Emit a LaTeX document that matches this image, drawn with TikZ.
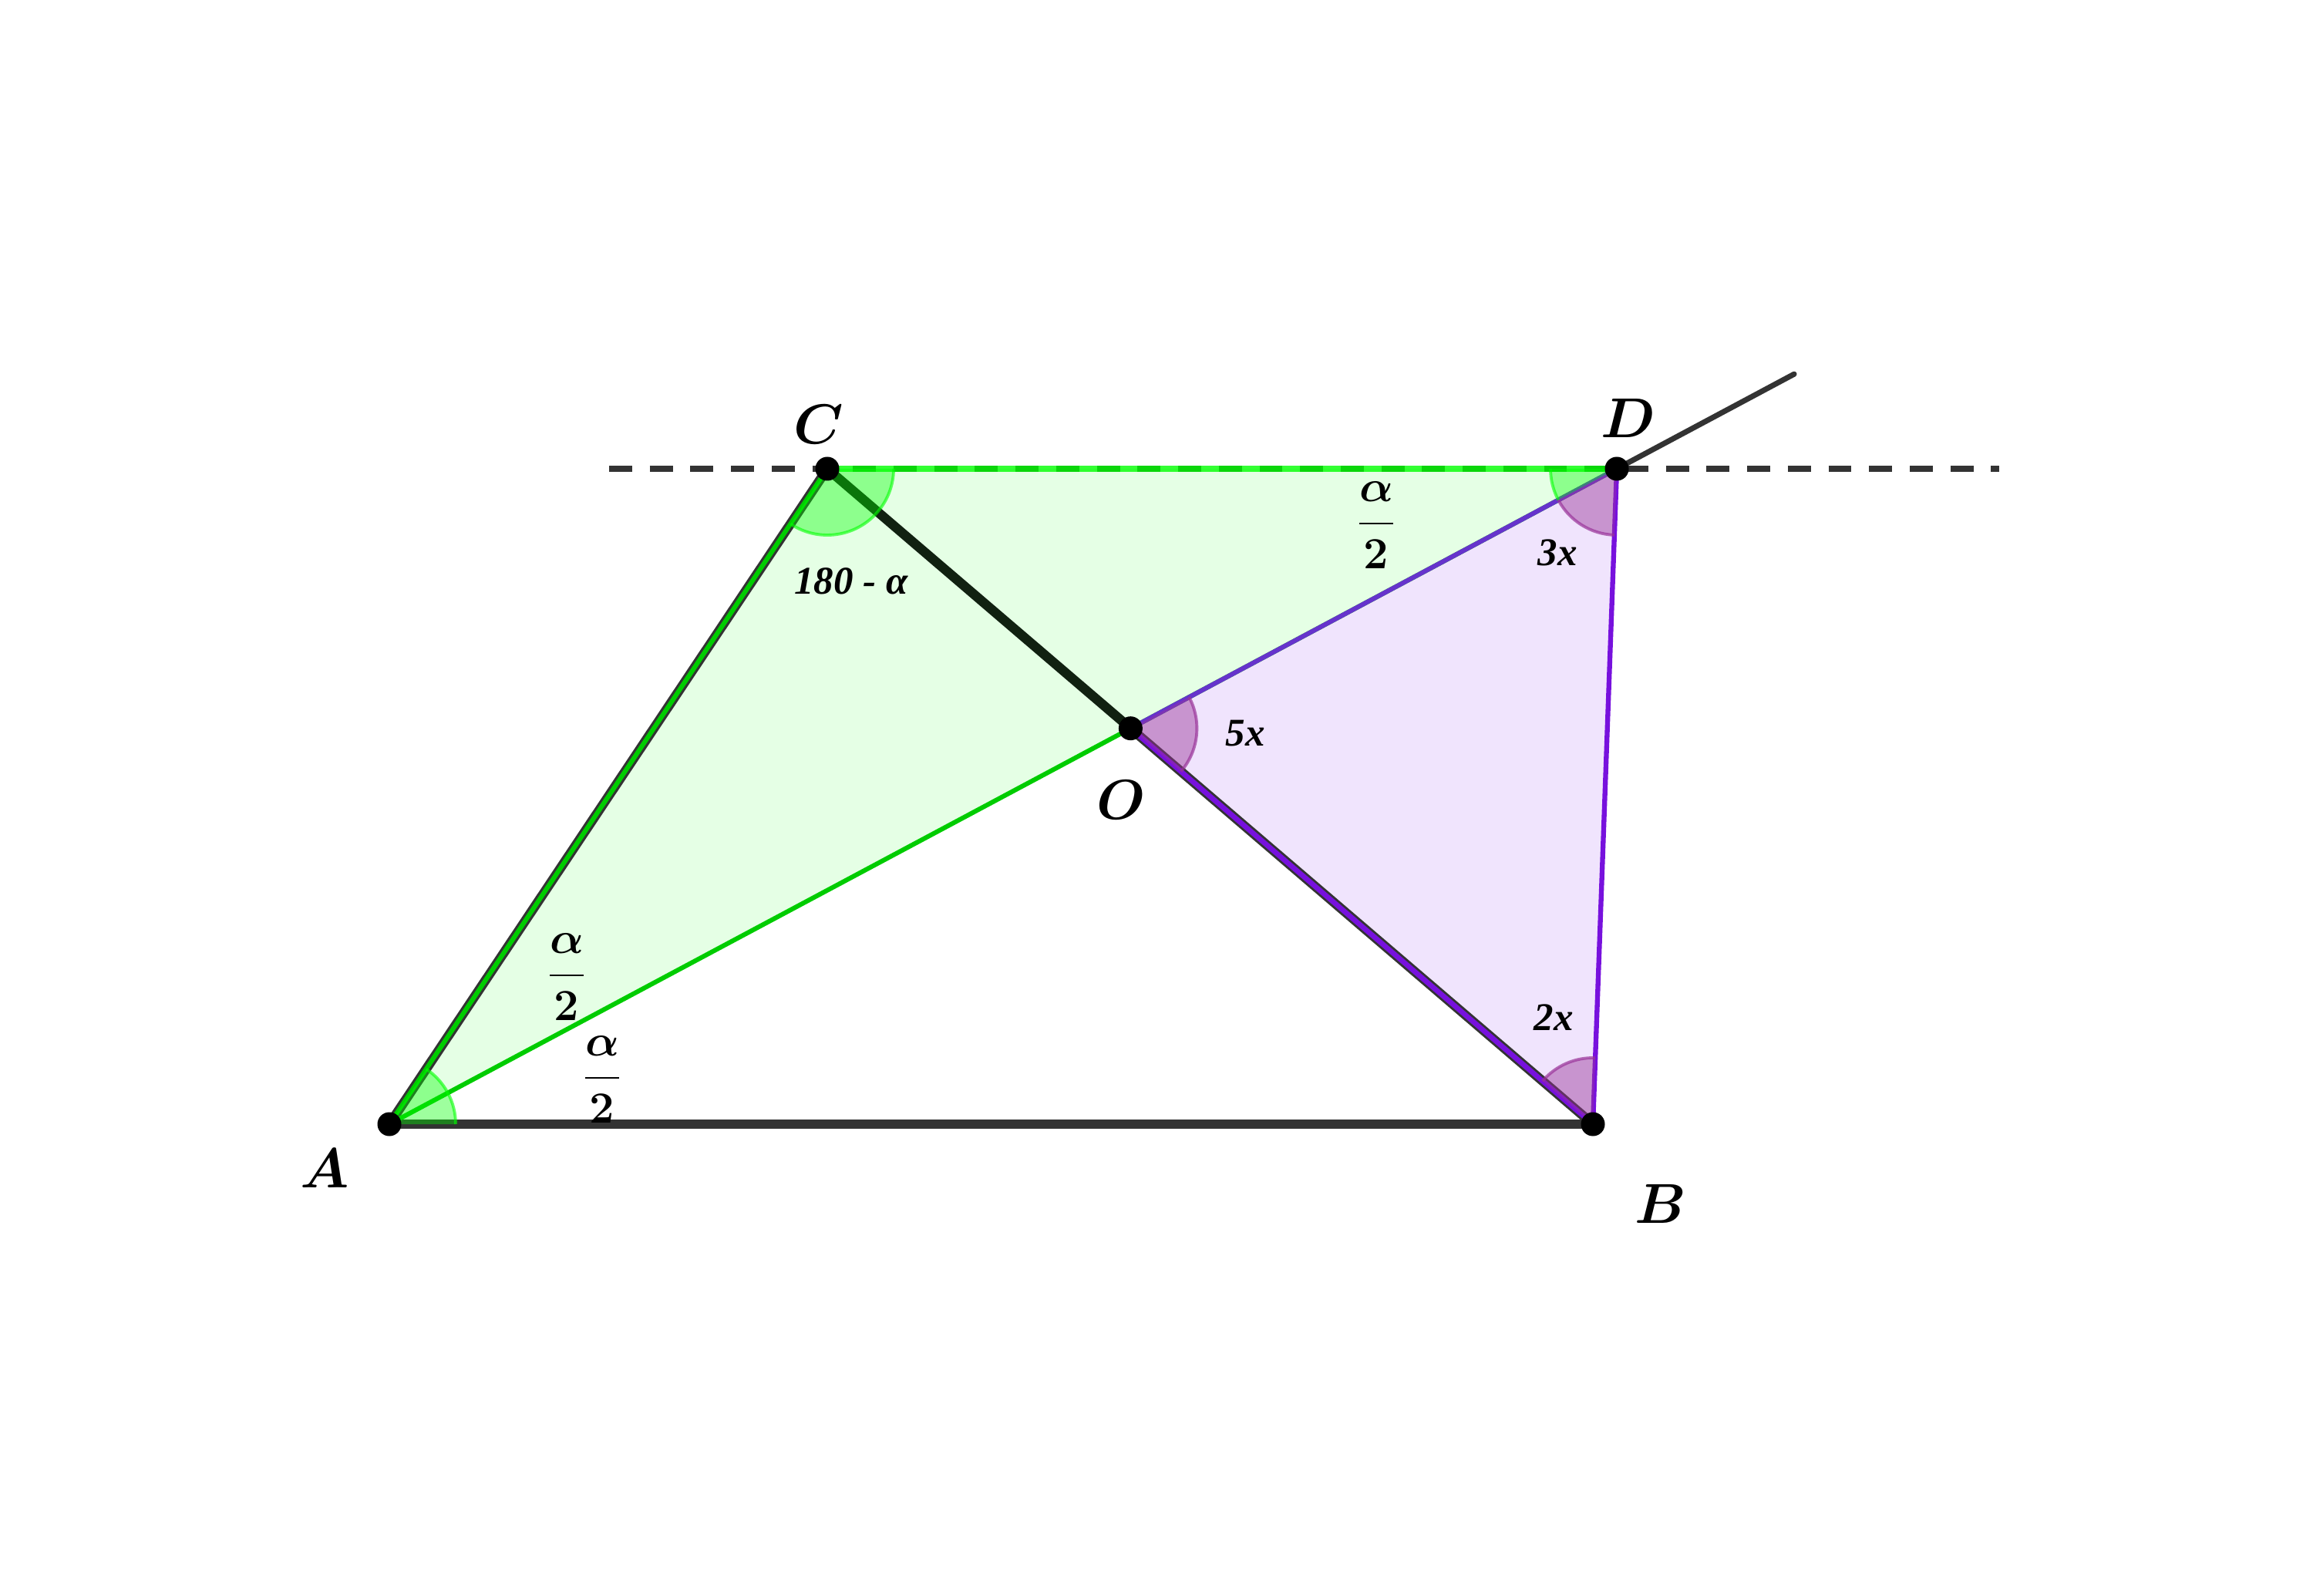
\documentclass[tikz,border=0pt]{standalone}
\usepackage{amsmath}
\usepackage{bm}
\usepackage{fontspec}
\newfontfamily\ggfont{Liberation Serif}
\usetikzlibrary{calc}
\definecolor{ggGreen}{RGB}{0,204,0}
\definecolor{ggLime}{RGB}{0,255,0}
\definecolor{ggViolet}{RGB}{102,51,204}
\definecolor{ggSide}{RGB}{119,17,221}
\definecolor{ggAngle}{RGB}{153,51,153}
\definecolor{ggDark}{RGB}{51,51,51}
\definecolor{ggPaleGreen}{RGB}{229,255,229}
\definecolor{ggPaleViolet}{RGB}{240,228,253}

\begin{document}
\begin{tikzpicture}

\tikzset
  {
    triGreen/.style=    {ggPaleGreen},
    triViolet/.style=   {ggPaleViolet},
    segDark/.style=     {ggDark, line width=3.5pt},
    segThin/.style=     {ggDark, line width=2pt, line cap=round},
    segGreen/.style=    {ggGreen, line width=1.7pt},
    segViolet/.style=   {ggViolet, line width=1.7pt},
    angGreen/.style=    {fill=ggLime, fill opacity=0.38},
    angGreenEdge/.style={ggLime, line width=1.1pt, opacity=0.6},
    angViolet/.style=   {fill=ggAngle, fill opacity=0.45},
    angVioletEdge/.style={ggAngle, line width=1.1pt, opacity=0.7},
    dot/.style=         {circle, fill=black, inner sep=0pt, minimum size=0.31cm},
    ptLabel/.style=     {font=\fontsize{20}{24}\selectfont},
    angLabel/.style=    {font=\ggfont\fontsize{14.5}{17}\selectfont\bfseries\itshape},
    fracLabel/.style=   {font=\fontsize{14.4}{17}\selectfont, scale=1.14}
  }

\useasboundingbox (0,0) rectangle (30,20.69);

% points
\coordinate (A) at (5.05,6.11);
\coordinate (B) at (20.66,6.11);
\coordinate (C) at (10.73,14.61);
\coordinate (D) at (20.97,14.61);
\coordinate (O) at (intersection of A--D and C--B);
\coordinate (E) at ($(A)!1.1445!(D)$);
\coordinate (L1) at (7.90,14.61);
\coordinate (L2) at (25.93,14.61);

% triangles
{
\fill[triGreen] (A) -- (C) -- (D) -- cycle;
\fill[triViolet] (O) -- (D) -- (B) -- cycle;
}

% lines
{
\draw[segThin, line cap=butt, dash pattern=on 8.5pt off 6.5pt] (L1) -- (L2);
\draw[segThin] (D) -- (E);

\draw[segDark] (A) -- (B);
\draw[segDark] (A) -- (C);
\draw[segGreen] (A) -- (C);
\draw[segDark, ggDark!85!green!40!black] (C) -- (O);
\draw[segDark] (O) -- (B);
\draw[segViolet, ggSide, line width=1.9pt] (O) -- (B);

\draw[segGreen] (A) -- (D);
\draw[segViolet] (O) -- (D);
\draw[ggLime, line width=2pt, opacity=0.8] (C) -- (D);
\draw[segViolet, ggSide, line width=1.8pt] (D) -- (B);
}

% angles
{
\fill[angGreen] (A) -- ++(0:0.86) arc (0:56.25:0.86) -- cycle;
\draw[angGreenEdge] ($(A)+(0:0.86)$) arc (0:56.25:0.86);

\fill[angGreen] (C) -- ++(-123.75:0.86) arc (-123.75:0:0.86) -- cycle;
\draw[angGreenEdge] ($(C)+(-123.75:0.86)$) arc (-123.75:0:0.86);

\fill[angGreen] (D) -- ++(180:0.86) arc (180:208.1:0.86) -- cycle;
\draw[angGreenEdge] ($(D)+(180:0.86)$) arc (180:208.1:0.86);

\fill[angViolet] (D) -- ++(208.1:0.86) arc (208.1:267.9:0.86) -- cycle;
\draw[angVioletEdge] ($(D)+(208.1:0.86)$) arc (208.1:267.9:0.86);

\fill[angViolet] (O) -- ++(-40.56:0.86) arc (-40.56:28.1:0.86) -- cycle;
\draw[angVioletEdge] ($(O)+(-40.56:0.86)$) arc (-40.56:28.1:0.86);

\fill[angViolet] (B) -- ++(87.9:0.86) arc (87.9:139.44:0.86) -- cycle;
\draw[angVioletEdge] ($(B)+(87.9:0.86)$) arc (87.9:139.44:0.86);
}

% dots
\foreach \p in {A,B,C,D,O}
\node[dot] (dot\p) at (\p) {};

% labels
{
\node[ptLabel] (labA) at (4.21,5.54) {$\bm{A}$};
\node[ptLabel] (labB) at (21.54,5.08) {$\bm{B}$};
\node[ptLabel] (labC) at (10.62,15.18) {$\bm{C}$};
\node[ptLabel] (labD) at (21.12,15.26) {$\bm{D}$};
\node[ptLabel] (labO) at (14.54,10.32) {$\bm{O}$};

\node[angLabel] (angC) at (11.04,13.15) {180 - α};
\node[angLabel] (angD) at (20.20,13.52) {3x};
\node[angLabel] (angO) at (16.15,11.18) {5x};
\node[angLabel] (angB) at (20.15,7.49) {2x};

\node[fracLabel] (fracD) at (17.85,13.88) {$\bm{\dfrac{\alpha}{2}}$};
\node[fracLabel] (fracA1) at (7.35,8.02) {$\bm{\dfrac{\alpha}{2}}$};
\node[fracLabel] (fracA2) at (7.81,6.69) {$\bm{\dfrac{\alpha}{2}}$};
}

\end{tikzpicture}
\end{document}
